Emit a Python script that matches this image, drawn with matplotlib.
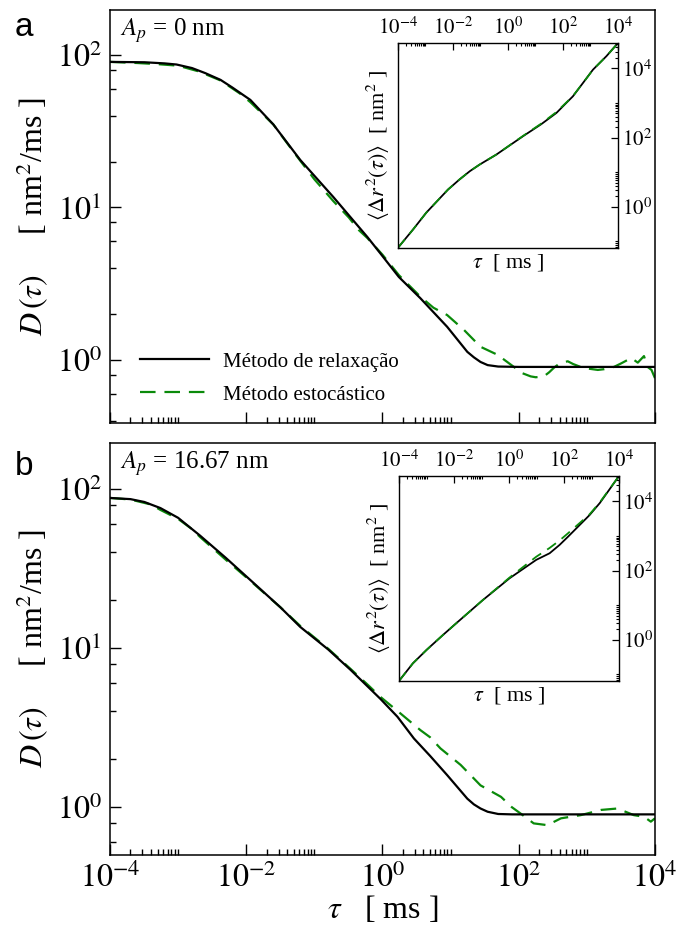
import numpy as np
import matplotlib
matplotlib.use("Agg")
import matplotlib.pyplot as plt
from matplotlib.ticker import FixedLocator, FuncFormatter, LogLocator, NullFormatter

plt.rcParams['font.family'] = ['Liberation Serif', 'DejaVu Serif']
plt.rcParams['mathtext.fontset'] = 'stix'

# ==========================================
# Data
# ==========================================
# panel a (A_p = 0 nm)
tau_a_rel = [1e-4, 3.2e-4, 6.3e-4, 9.5e-4, 1.6e-3, 2.5e-3, 4.2e-3, 6.3e-3, 0.0115, 0.025,
             0.062, 0.19, 0.60, 0.93, 1.74, 3.6, 8.9, 17.6, 22, 27.5,
             35, 50, 100, 1e4]
D_a_rel = [90, 89.5, 88, 86.5, 82, 76, 68.6, 61, 50.7, 35,
           20.5, 11.7, 6.4, 5.0, 3.5, 2.54, 1.65, 1.13, 1.04, 0.97,
           0.925, 0.905, 0.90, 0.90]

tau_a_sto = [1e-4, 2.5e-4, 5e-4, 1e-3, 2e-3, 4.2e-3, 8e-3, 0.0115, 0.025, 0.05,
             0.1, 0.19, 0.32, 0.45, 0.60, 1.0, 1.74, 3.6, 5.6, 8.9,
             15.8, 27.5, 49, 85, 112, 150, 178, 234, 280, 330,
             400, 525, 630, 810, 1000, 1450, 1800, 2500, 3200, 4500,
             5600, 6900, 7800, 8900, 1e4]
D_a_sto = [90, 88.5, 87, 85, 78, 68, 56, 49, 35, 23,
           15.3, 11.0, 8.6, 7.1, 6.3, 4.9, 3.6, 2.6, 2.2, 1.97,
           1.57, 1.22, 1.08, 0.90, 0.82, 0.78, 0.77, 0.78, 0.83, 0.89,
           0.95, 0.98, 0.94, 0.90, 0.88, 0.86, 0.87, 0.90, 0.95, 1.03,
           0.96, 1.06, 0.90, 0.86, 0.76]

# panel b (A_p = 16.67 nm)
tau_b_rel = [1e-4, 2e-4, 3.2e-4, 5.5e-4, 1e-3, 2.1e-3, 5e-3, 0.0115, 0.032, 0.062,
             0.16, 0.34, 0.93, 1.66, 2.9, 5.0, 8.9, 17.6, 22, 27.5,
             35, 50, 80, 1e4]
D_b_rel = [88, 86.5, 83, 76, 66, 51, 37, 26.8, 18, 13.6,
           9.8, 7.3, 4.8, 3.7, 2.7, 2.1, 1.59, 1.13, 1.04, 0.98,
           0.935, 0.905, 0.90, 0.90]

tau_b_sto = [1e-4, 2e-4, 4e-4, 5.5e-4, 1e-3, 1.6e-3, 2.1e-3, 5e-3, 0.0115, 0.032,
             0.062, 0.16, 0.34, 0.63, 0.93, 1.84, 3.6, 5.0, 7.1, 14.1,
             27.5, 55, 79, 107, 166, 263, 417, 813, 1620, 2820,
             4900, 6900, 8700, 1e4]
D_b_sto = [88, 86, 80, 74, 65, 56, 50, 36, 26.5, 18,
           13.8, 9.9, 7.4, 5.8, 4.94, 3.88, 3.05, 2.75, 2.34, 1.84,
           1.37, 1.16, 1.0, 0.91, 0.79, 0.77, 0.85, 0.89, 0.96, 0.98,
           0.89, 0.87, 0.81, 0.85]

# insets: mean squared displacement
tau_ins_a = [1e-4, 3.5e-4, 1.07e-3, 6.6e-3, 0.0174, 0.041, 0.093, 0.38, 3.55, 15.8,
             57.5, 132, 229, 537, 1230, 3800, 1e4]
msd_a_rel = [0.066, 0.22, 0.68, 3.16, 6.2, 10.7, 16.6, 32.4, 110, 240,
             513, 1000, 1550, 3800, 9120, 22400, 53700]
msd_a_sto = [0.066, 0.22, 0.68, 3.16, 6.2, 10.7, 16.6, 32.4, 112, 250,
             545, 1030, 1580, 3800, 9120, 22400, 53700]

tau_ins_b = [1e-4, 3.2e-4, 1e-3, 4e-3, 0.012, 0.112, 1.05, 9.8, 30, 69,
             141, 850, 2000, 1e4]
msd_b_rel = [0.065, 0.21, 0.51, 1.39, 3.0, 14.1, 60, 204, 316, 550,
             955, 4000, 8900, 53700]
msd_b_sto = [0.065, 0.21, 0.51, 1.39, 3.0, 14.1, 63, 251, 450, 740,
             1200, 4200, 9300, 53700]

labels = ['Método de relaxação', 'Método estocástico']
amp_text = ['$A_p$ = 0 nm', '$A_p$ = 16.67 nm']

GREEN = '#0a8a0a'


def pow10(v, pos):
    return r'$10^{%d}$' % int(round(np.log10(v)))


def grace_minor(exps):
    # minor ticks 2..10 x 10^m after every (two-decade) major tick
    return [k * 10.0 ** m for m in exps for k in range(2, 11)]


def style_main(ax, ylim, show_xlabels):
    ax.set_xscale('log')
    ax.set_yscale('log')
    ax.set_xlim(1e-4, 1e4)
    ax.set_ylim(*ylim)
    ax.xaxis.set_major_locator(FixedLocator([1e-4, 1e-2, 1, 1e2, 1e4]))
    ax.xaxis.set_minor_locator(FixedLocator(grace_minor([-4, -2, 0, 2])))
    ax.yaxis.set_major_locator(FixedLocator([1, 10, 100]))
    ax.yaxis.set_minor_locator(LogLocator(base=10, subs=(2, 4, 6, 8)))
    ax.yaxis.set_major_formatter(FuncFormatter(pow10))
    ax.yaxis.set_minor_formatter(NullFormatter())
    if show_xlabels:
        ax.xaxis.set_major_formatter(FuncFormatter(pow10))
    else:
        ax.xaxis.set_major_formatter(NullFormatter())
    ax.xaxis.set_minor_formatter(NullFormatter())
    ax.tick_params(which='both', direction='in', top=False, right=False, labelsize=23, pad=6)
    ax.tick_params(which='major', length=8, width=1)
    ax.tick_params(which='minor', length=4, width=1)
    for s in ax.spines.values():
        s.set_linewidth(1.1)
    ax.set_ylabel(r'$D\,(\tau)$' + '     [ nm$^2$/ms ]', fontsize=23, labelpad=4)


def style_inset(ax):
    ax.set_xscale('log')
    ax.set_yscale('log')
    ax.set_xlim(1e-4, 1e4)
    ax.set_ylim(0.065, 5.4e4)
    ax.xaxis.set_major_locator(FixedLocator([1e-4, 1e-2, 1, 1e2, 1e4]))
    ax.xaxis.set_minor_locator(FixedLocator(grace_minor([-4, -2, 0, 2])))
    ax.yaxis.set_major_locator(FixedLocator([1, 1e2, 1e4]))
    ax.yaxis.set_minor_locator(FixedLocator(grace_minor([-2, 0, 2, 4])))
    ax.xaxis.set_major_formatter(FuncFormatter(pow10))
    ax.yaxis.set_major_formatter(FuncFormatter(pow10))
    ax.xaxis.set_minor_formatter(NullFormatter())
    ax.yaxis.set_minor_formatter(NullFormatter())
    ax.xaxis.tick_top()
    ax.yaxis.tick_right()
    ax.tick_params(which='both', direction='in', labelsize=15, pad=3)
    ax.tick_params(which='major', length=5, width=0.9)
    ax.tick_params(which='minor', length=2.5, width=0.8)
    ax.set_xlabel(r'$\tau$  [ ms ]', fontsize=16, labelpad=3)
    ax.xaxis.set_label_position('bottom')
    ax.set_ylabel(r'$\langle\Delta r^2(\tau)\rangle$  [ nm$^2$ ]', fontsize=16, labelpad=4)
    ax.yaxis.set_label_position('left')
    for s in ax.spines.values():
        s.set_linewidth(1.0)


fig = plt.figure(figsize=(6.78, 9.35), dpi=100)

ax_a = fig.add_axes([0.1622, 0.5476, 0.8038, 0.4417])
ax_b = fig.add_axes([0.1622, 0.0856, 0.8038, 0.4406])
in_a = fig.add_axes([0.587, 0.7348, 0.3245, 0.2193])
in_b = fig.add_axes([0.5885, 0.2717, 0.3245, 0.2193])

# main panels
ax_a.plot(tau_a_rel, D_a_rel, color='black', lw=1.6, label=labels[0], zorder=3)
ax_a.plot(tau_a_sto, D_a_sto, color=GREEN, lw=1.6, dashes=(7, 4), label=labels[1], zorder=2)
ax_b.plot(tau_b_rel, D_b_rel, color='black', lw=1.6, zorder=3)
ax_b.plot(tau_b_sto, D_b_sto, color=GREEN, lw=1.6, dashes=(7, 4), zorder=2)

style_main(ax_a, (0.386, 197), show_xlabels=False)
style_main(ax_b, (0.5, 195), show_xlabels=True)
ax_b.set_xlabel(r'$\tau$' + '   [ ms ]', fontsize=23, labelpad=0)

ax_a.text(0.018, 0.985, amp_text[0], transform=ax_a.transAxes, fontsize=18, va='top', ha='left')
ax_b.text(0.018, 0.985, amp_text[1], transform=ax_b.transAxes, fontsize=18, va='top', ha='left')

ax_a.legend(loc='upper left', bbox_to_anchor=(0.055, 0.172), frameon=False, fontsize=15,
            handlelength=3.3, handletextpad=0.7, labelspacing=0.65, borderpad=0, borderaxespad=0)

# insets
in_a.plot(tau_ins_a, msd_a_rel, color='black', lw=1.3)
in_a.plot(tau_ins_a, msd_a_sto, color=GREEN, lw=1.3, dashes=(6, 4))
in_b.plot(tau_ins_b, msd_b_rel, color='black', lw=1.3)
in_b.plot(tau_ins_b, msd_b_sto, color=GREEN, lw=1.3, dashes=(6, 4))
style_inset(in_a)
style_inset(in_b)

fig.text(0.022, 0.962, 'a', fontsize=24, family='Liberation Sans')
fig.text(0.022, 0.492, 'b', fontsize=24, family='Liberation Sans')

fig.savefig('out.png', dpi=100)
